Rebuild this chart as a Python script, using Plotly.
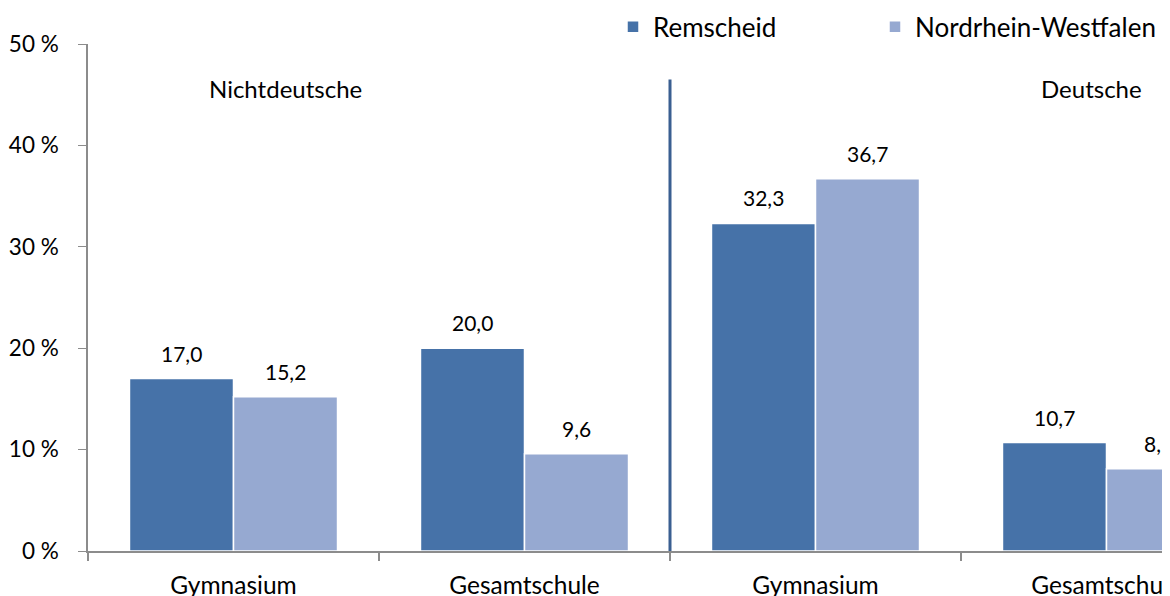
import plotly.graph_objects as go

categories = ["Gymnasium", "Gesamtschule", "Gymnasium", "Gesamtschule"]
remscheid = [17.0, 20.0, 32.3, 10.7]
nrw = [15.2, 9.6, 36.7, 8.1]
groups = ["Nichtdeutsche", "Deutsche"]

pos = list(range(len(categories)))
FONT = "Lato"
C_REM = "#4672A8"
C_NRW = "#96A9D1"

fig = go.Figure()
fig.add_trace(go.Bar(x=pos, y=remscheid, name="Remscheid", marker_color=C_REM,
                     marker_line=dict(color="white", width=1.5), legend="legend"))
fig.add_trace(go.Bar(x=pos, y=nrw, name="Nordrhein-Westfalen", marker_color=C_NRW,
                     marker_line=dict(color="white", width=1.5), legend="legend2"))

bargap = 0.285
off = (1 - bargap) / 4
fmt = lambda v: f"{v:.1f}".replace(".", ",")
for i in pos:
    for dx, v in ((-off, remscheid[i]), (off, nrw[i])):
        fig.add_annotation(x=i + dx, y=v, text=fmt(v), showarrow=False,
                           yanchor="bottom", yshift=11,
                           font=dict(size=21, color="black", family=FONT))

# group labels and divider
fig.add_annotation(x=0.18, y=45.66, text=groups[0], showarrow=False,
                   font=dict(size=24, color="black", family=FONT))
fig.add_annotation(x=2.95, y=45.66, text=groups[1], showarrow=False,
                   font=dict(size=24, color="black", family=FONT))
fig.add_shape(type="line", x0=1.5, x1=1.5, y0=-4.4, y1=46.5, xref="x", yref="y",
              line=dict(color="#3A5F91", width=3))

leg = dict(orientation="h", y=1.034, xanchor="left", yanchor="middle",
           font=dict(size=26, family=FONT), bgcolor="rgba(0,0,0,0)")

# page body has an 8px margin, so the figure is 8px smaller
fig.update_layout(
    width=1162, height=588,
    margin=dict(l=80, r=0, t=36, b=45, autoexpand=False),
    plot_bgcolor="white", paper_bgcolor="white",
    barmode="group", bargap=bargap, bargroupgap=0,
    font=dict(family=FONT, size=20, color="black"),
    showlegend=True,
    legend=dict(leg, x=(613 - 88) / 1082),
    legend2=dict(leg, x=(875 - 88) / 1082),
)
fig.update_xaxes(range=[-0.5, -0.5 + 1082 / 291], tickvals=pos, ticktext=categories,
                 showline=True, linecolor="#8C8C8C", linewidth=2, ticks="",
                 showgrid=False, zeroline=False, ticklabelstandoff=12, automargin=False,
                 ticklabeloverflow="allow",
                 minor=dict(tickvals=[p - 0.5 for p in pos] + [len(pos) - 0.5],
                            ticks="outside", ticklen=8, tickcolor="#8C8C8C", tickwidth=1.5),
                 tickfont=dict(size=24.5, family=FONT))
fig.update_yaxes(range=[0, 50], dtick=10, ticksuffix=" %", showline=True,
                 linecolor="#8C8C8C", linewidth=1.5, ticks="outside", ticklen=8,
                 tickcolor="#8C8C8C", showgrid=False, zeroline=False, automargin=False,
                 ticklabelstandoff=15, tickfont=dict(size=22.5, family=FONT))

fig.write_html("out.html")
